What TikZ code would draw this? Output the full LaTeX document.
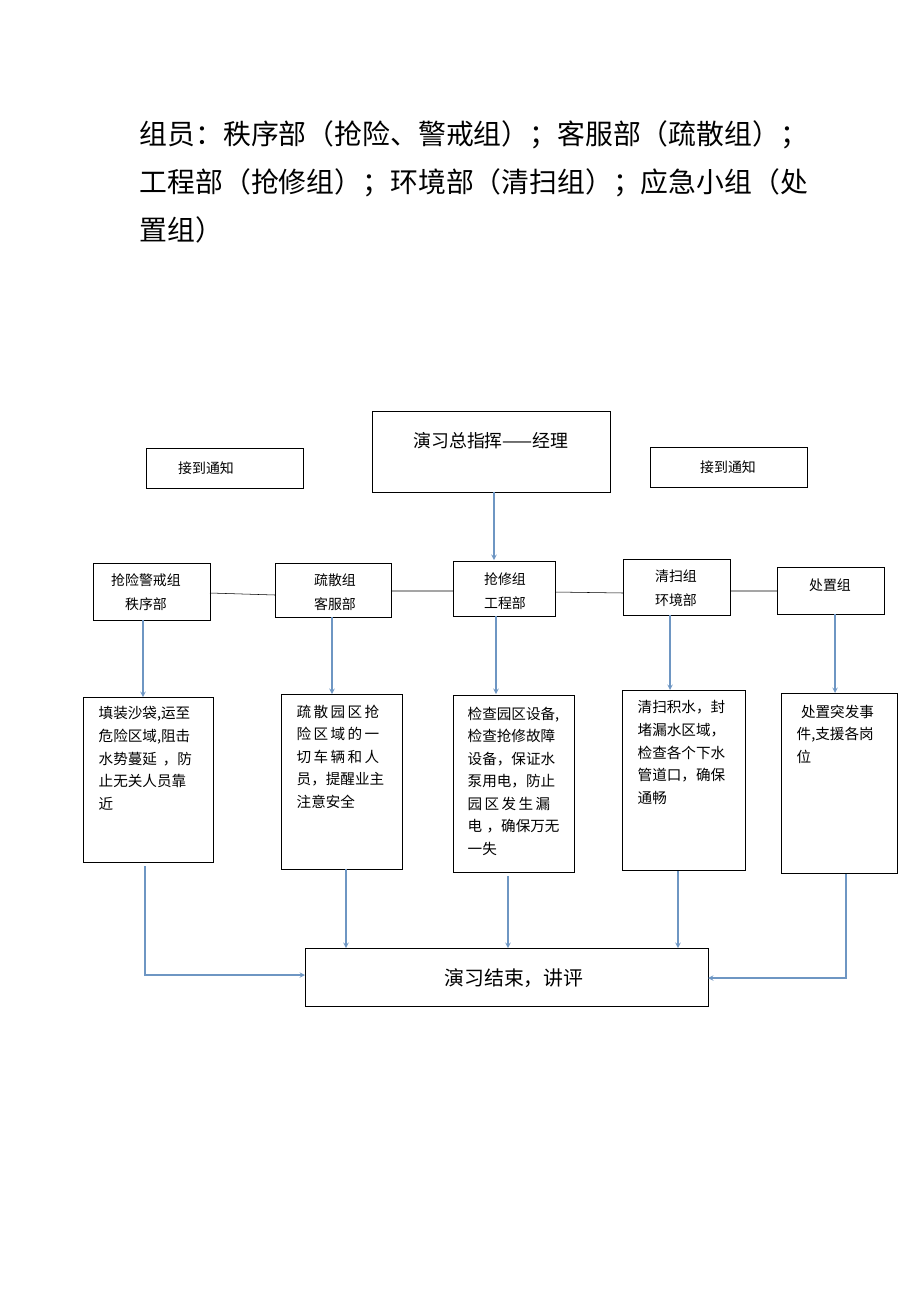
\documentclass[tikz,border=0pt]{standalone}
\usepackage{fontspec}
\setmainfont{Liberation Serif}
\newfontfamily\cjk{Noto Sans CJK SC}
\usetikzlibrary{positioning}
\tikzset{>=stealth}
\definecolor{flow}{RGB}{110,150,195}
\tikzset{box/.style={draw,thin,inner sep=0pt},
  arr/.style={->,flow,thick},
  txt/.style={font=\cjk\fontsize{11pt}{17pt}\selectfont,align=left,anchor=north west}}
\begin{document}
\begin{tikzpicture}[x=0.0265cm,y=-0.0265cm]
        \useasboundingbox (0,0) rectangle (920,1302);
        \node[anchor=north west,font=\cjk\fontsize{21pt}{36pt}\selectfont,align=left] (head) at (135,116)
          {组员：秩序部（抢险、警戒组）；客服部（疏散组）；\\工程部（抢修组）；环境部（清扫组）；应急小组（处\\置组）};
      % top
      \draw[box] (372,411) rectangle (610,492);
      \node[font=\cjk\fontsize{13.5pt}{16pt}\selectfont] (boss) at (491,441) {演习总指挥——经理};
      \coordinate (bossb) at (494,492);
      \draw[box] (146,448) rectangle (303,488);
      \node[font=\cjk\fontsize{10.5pt}{14pt}\selectfont] (nl) at (206,468) {接到通知};
      \draw[box] (650,447) rectangle (807,487);
      \node[font=\cjk\fontsize{10.5pt}{14pt}\selectfont] (nr) at (728,467) {接到通知};
      % groups
      \draw[box] (93,563) rectangle (210,620);
      \draw[box] (275,563) rectangle (391,617);
      \draw[box] (453,561) rectangle (555,616);
      \draw[box] (623,559) rectangle (730,615);
      \draw[box] (777,567) rectangle (884,614);
      \node[font=\cjk\fontsize{10.5pt}{18pt}\selectfont,align=center] (g1) at (146,592) {抢险警戒组\\秩序部};
      \node[font=\cjk\fontsize{10.5pt}{18pt}\selectfont,align=center] (g2) at (335,592) {疏散组\\客服部};
      \node[font=\cjk\fontsize{10.5pt}{18pt}\selectfont,align=center] (g3) at (505,591) {抢修组\\工程部};
      \node[font=\cjk\fontsize{10.5pt}{18pt}\selectfont,align=center] (g4) at (676,588) {清扫组\\环境部};
      \node[font=\cjk\fontsize{10.5pt}{18pt}\selectfont] (g5) at (830,585) {处置组};
      \draw (210,593)--(275,595) (391,591)--(453,591) (555,592)--(623,593) (730,591)--(777,591);
      \draw[arr] (bossb)--(494,560);
      % details
      \draw[box] (83,697) rectangle (213,862);
      \draw[box] (281,694) rectangle (402,869);
      \draw[box] (453,695) rectangle (574,872);
      \draw[box] (622,690) rectangle (745,870);
      \draw[box] (781,693) rectangle (897,873);
      \node[txt] (d1) at (94,702) {填装沙袋,运至\\危险区域,阻击\\水势蔓延\hspace{0.4em}，防\\止无关人员靠\\近};
      \node[txt] (d2) at (292,700) {疏\,散\,园\,区\,抢\\险\,区\,域\,的\,一\\切\,车\,辆\,和\,人\\员，提醒业主\\注意安全};
      \node[txt] (d3) at (463,702) {检查园区设备,\\检查抢修故障\\设备，保证水\\泵用电，防止\\园\,区\,发\,生\,漏\\电\hspace{0.3em}，确保万无\\一失};
      \node[txt] (d4) at (633,696) {清扫积水，封\\堵漏水区域，\\检查各个下水\\管道口，确保\\通畅};
      \node[txt] (d5) at (792,700) {\hspace{0.3em}处置突发事\\件,支援各岗\\位};
      \draw[arr] (143,620)--(143,697);
      \draw[arr] (332,617)--(332,694);
      \draw[arr] (496,616)--(496,694);
      \draw[arr] (670,615)--(670,690);
      \draw[arr] (835,614)--(835,693);
      % end
      \draw[box] (305,948) rectangle (708,1006);
      \node[font=\cjk\fontsize{15pt}{18pt}\selectfont] (fin) at (514,978) {演习结束，讲评};
      \draw[arr] (145,866)--(145,975)--(305,975);
      \draw[arr] (346,869)--(346,948);
      \draw[arr] (508,876)--(508,948);
      \draw[arr] (678,871)--(678,948);
      \draw[arr] (846,874)--(846,978)--(708,978);
    \end{tikzpicture}
\end{document}
